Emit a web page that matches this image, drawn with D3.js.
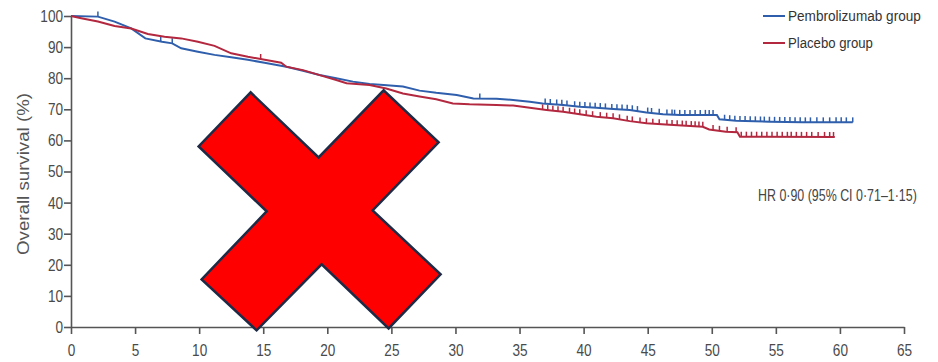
<!DOCTYPE html>
<html>
<head>
<meta charset="utf-8">
<script src="https://cdn.jsdelivr.net/npm/d3@7"></script>
<style>
  body { margin: 0; background: #fff; }
  svg text { font-family: "Liberation Sans", Arial, sans-serif; }
  .axis path, .axis line { stroke: #555; stroke-width: 1.6px; }
  .axis text { fill: #4a4a4a; font-size: 17px; }
</style>
</head>
<body>
<div id="wrapper"></div>
<script>
// pembrolizumab group: curve points (months, survival %)
const pembroTimes = [0, 2.1, 3.4, 4.7, 5.8, 7.1, 7.9, 8.6, 9.9, 11.2, 12.5, 13.8, 15.1, 16.8, 18.1, 19.4, 20.7, 22.0, 23.3, 24.4, 25.9, 27.2, 28.5, 30.1, 31.4, 33.2, 34.5, 35.8, 36.8, 38.4, 39.7, 41.0, 42.3, 43.6, 44.9, 46.2, 47.5, 50.4, 50.6, 51.9, 54.5, 57.1, 61.0]
const pembroSurv = [100, 99.8, 98.2, 96.0, 92.8, 91.7, 91.2, 89.6, 88.5, 87.5, 86.7, 85.9, 85.0, 83.7, 82.4, 81.0, 80.0, 78.9, 78.1, 77.8, 77.3, 76.0, 75.3, 74.6, 73.5, 73.4, 73.0, 72.4, 71.9, 71.4, 70.8, 70.5, 70.1, 69.8, 69.0, 68.4, 68.2, 68.2, 66.8, 66.3, 66.0, 65.8, 65.8]
const pembroCensor = [2.1, 7.0, 7.9, 31.9, 37.0, 37.4, 37.9, 38.3, 38.7, 39.3, 39.7, 40.1, 40.5, 40.9, 41.3, 41.7, 42.2, 42.6, 43.0, 43.4, 43.8, 44.2, 45.0, 45.3, 45.9, 46.5, 46.9, 47.1, 47.5, 47.9, 48.3, 48.7, 49.1, 49.5, 49.8, 50.1, 51.0, 51.4, 51.8, 52.2, 52.6, 53.0, 53.4, 53.8, 54.1, 54.5, 54.9, 55.3, 55.7, 56.1, 56.5, 56.9, 57.3, 57.7, 58.2, 58.7, 59.2, 59.7, 60.1, 60.5, 61.0]

// placebo group
const placeboTimes = [0, 0.8, 2.1, 3.4, 4.7, 6.0, 7.3, 8.6, 9.9, 11.2, 12.5, 13.8, 14.9, 16.4, 16.8, 18.1, 19.4, 20.7, 21.5, 23.3, 24.6, 25.9, 27.2, 28.5, 29.8, 31.1, 33.2, 34.5, 35.8, 37.1, 38.4, 39.7, 41.0, 42.3, 43.6, 44.9, 46.7, 49.3, 49.8, 51.1, 52.0, 52.2, 59.6]
const placeboSurv = [100, 99.3, 98.2, 96.8, 96.0, 94.2, 93.3, 92.8, 91.7, 90.4, 88.0, 86.9, 86.1, 85.0, 83.7, 82.6, 81.0, 79.4, 78.4, 77.8, 76.7, 75.1, 74.1, 73.2, 71.9, 71.6, 71.4, 71.2, 70.5, 69.8, 69.2, 68.4, 67.6, 67.1, 66.2, 65.5, 65.0, 64.4, 63.5, 62.8, 62.6, 61.2, 61.1]
const placeboCensor = [14.8, 36.8, 37.2, 37.6, 38.0, 38.4, 38.9, 39.3, 39.7, 40.2, 40.7, 41.3, 41.8, 42.3, 42.8, 43.4, 43.8, 44.4, 44.9, 45.4, 45.9, 46.5, 46.9, 47.3, 47.7, 48.0, 48.4, 48.7, 49.0, 49.3, 50.1, 50.6, 51.2, 51.9, 52.3, 52.7, 53.1, 53.5, 53.9, 54.3, 54.7, 55.1, 55.5, 55.9, 56.2, 56.6, 57.0, 57.4, 57.8, 58.3, 58.8, 59.2, 59.5]

const xTicks = [0, 5, 10, 15, 20, 25, 30, 35, 40, 45, 50, 55, 60, 65]
const yTicks = [0, 10, 20, 30, 40, 50, 60, 70, 80, 90, 100]
const legendLabels = ["Pembrolizumab group", "Placebo group"]
const hrLabel = "HR 0\u00b790 (95% CI 0\u00b771\u20131\u00b715)"
const yLabel = "Overall survival (%)"

// red cross overlay: centre in data units, outline offsets in px
const crossCentre = [19.4, 37.5]
const crossShape = [[-69, -118], [-121, -64], [-53, 1], [-118, 69], [-63, 120], [2, 54], [69, 118], [121, 64], [53, 0], [119, -68], [64, -120], [-1, -53]]

// squeeze a text horizontally so it takes the given width, left edge at x
function fitText(sel, x, y, width) {
  const natural = sel.node().getComputedTextLength()
  const k = width / natural
  sel.attr("x", 0).attr("y", 0)
    .attr("transform", `translate(${x}, ${y}) scale(${k}, 1)`)
}

function drawChart() {
  const dimensions = { width: 938, height: 362 }

  const svg = d3.select("#wrapper").append("svg")
      .attr("width", dimensions.width)
      .attr("height", dimensions.height)

  const xScale = d3.scaleLinear().domain([0, 65]).range([71, 904])
  const yScale = d3.scaleLinear().domain([0, 100]).range([327, 16])

  const series = [
    { times: pembroTimes, surv: pembroSurv, censor: pembroCensor, color: "#2f5fac" },
    { times: placeboTimes, surv: placeboSurv, censor: placeboCensor, color: "#b3283f" },
  ]

  const lineGen = d3.line()
    .x(d => xScale(d[0]))
    .y(d => yScale(d[1]))

  // axes
  const xAxis = svg.append("g")
      .attr("class", "axis")
      .attr("transform", `translate(0, ${yScale(0)})`)
      .call(d3.axisBottom(xScale).tickValues(xTicks).tickSize(7).tickPadding(10).tickSizeOuter(0))
  xAxis.selectAll("text").attr("transform", "scale(0.8, 1)")

  const yAxis = svg.append("g")
      .attr("class", "axis")
      .attr("transform", `translate(${xScale(0)}, 0)`)
      .call(d3.axisLeft(yScale).tickValues(yTicks).tickSize(7).tickPadding(3).tickSizeOuter(0))
  yAxis.selectAll("text").attr("transform", "scale(0.8, 1)")

  svg.append("text")
      .attr("transform", `translate(23, ${(93 + 255) / 2}) rotate(-90)`)
      .attr("text-anchor", "middle")
      .attr("dy", "0.35em")
      .attr("textLength", 162)
      .attr("lengthAdjust", "spacingAndGlyphs")
      .style("font-size", "17px")
      .style("fill", "#555")
      .text(yLabel)

  // curves
  series.forEach(s => {
    const pts = s.times.map((t, i) => [t, s.surv[i]])
    const onCurve = d3.scaleLinear().domain(s.times).range(s.surv)
    svg.append("path")
        .attr("d", lineGen(pts))
        .attr("fill", "none")
        .attr("stroke", s.color)
        .attr("stroke-width", 2)
    svg.append("g").selectAll("line")
      .data(s.censor)
      .join("line")
        .attr("x1", d => xScale(d))
        .attr("x2", d => xScale(d))
        .attr("y1", d => yScale(onCurve(d)))
        .attr("y2", d => yScale(onCurve(d)) - 5)
        .attr("stroke", s.color)
        .attr("stroke-width", 1.5)
  })

  // legend
  const legendWidths = [133, 85]
  const legend = svg.append("g").attr("transform", "translate(763, 16)")
  legend.selectAll("line")
    .data(series)
    .join("line")
      .attr("x1", 0).attr("x2", 22)
      .attr("y1", (d, i) => i * 27).attr("y2", (d, i) => i * 27)
      .attr("stroke", d => d.color)
      .attr("stroke-width", 2)
  legend.selectAll("text")
    .data(legendLabels)
    .join("text")
      .attr("dy", "0.35em")
      .style("font-size", "15.5px")
      .style("fill", "#333")
      .text(d => d)
      .each(function(d, i) { fitText(d3.select(this), 25, i * 27, legendWidths[i]) })

  const hr = svg.append("text")
      .style("font-size", "17px")
      .style("fill", "#444")
      .text(hrLabel)
  fitText(hr, 758, 201, 159)

  // red cross overlay
  const [cx, cy] = [xScale(crossCentre[0]), yScale(crossCentre[1])]
  svg.append("polygon")
      .attr("points", crossShape.map(p => [cx + p[0], cy + p[1]].join(",")).join(" "))
      .attr("fill", "#ff0000")
      .attr("stroke", "#1d2b47")
      .attr("stroke-width", 2.5)
      .attr("stroke-linejoin", "miter")
}
drawChart()
</script>
</body>
</html>
